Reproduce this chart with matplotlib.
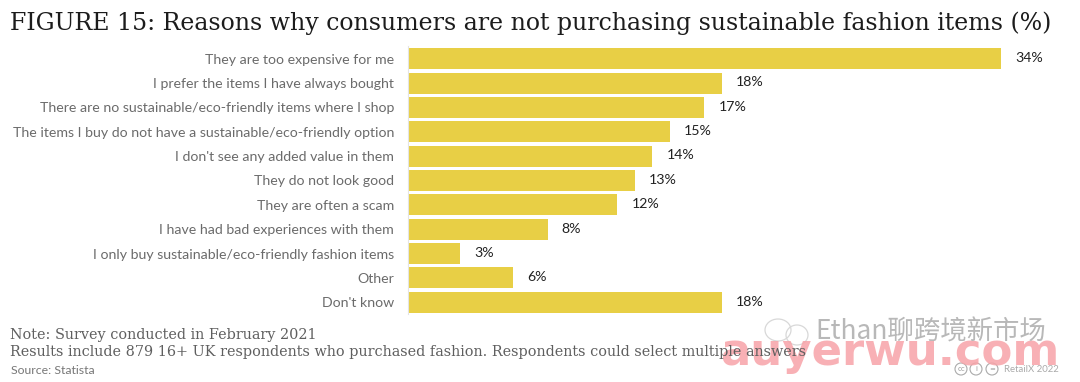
import matplotlib
matplotlib.use("Agg")
import matplotlib.pyplot as plt
from matplotlib.patches import Ellipse

categories = ["They are too expensive for me", "I prefer the items I have always bought",
              "There are no sustainable/eco-friendly items where I shop",
              "The items I buy do not have a sustainable/eco-friendly option",
              "I don't see any added value in them", "They do not look good", "They are often a scam",
              "I have had bad experiences with them", "I only buy sustainable/eco-friendly fashion items",
              "Other", "Don't know"]
values = [34, 18, 17, 15, 14, 13, 12, 8, 3, 6, 18]
title = "FIGURE 15: Reasons why consumers are not purchasing sustainable fashion items (%)"
note1 = "Note: Survey conducted in February 2021"
note2 = "Results include 879 16+ UK respondents who purchased fashion. Respondents could select multiple answers"
source = "Source: Statista"
credit = "RetailX 2022"

W, H = 1080, 382
fig = plt.figure(figsize=(W/100, H/100), dpi=100, facecolor="white")
top, bottom = 46.5, 314.5
ax = fig.add_axes([408/W, 1-bottom/H, (W-408)/W, (bottom-top)/H])
ax.barh(range(len(values)), values, height=0.86, color="#E8CF45")
ax.set_ylim(len(values)-0.5, -0.5)
ax.set_xlim(0, (W-408)/17.44)
ax.set_yticks(range(len(values)))
ax.set_yticklabels(categories, family="Lato", fontsize=10.2, color="#6b6b6b")
ax.tick_params(axis="y", length=0, pad=10)
ax.set_xticks([])
for s in ["top", "right", "bottom"]:
    ax.spines[s].set_visible(False)
ax.spines["left"].set_color("#e4e4e4")
ax.spines["left"].set_linewidth(0.8)
for i, v in enumerate(values):
    ax.annotate(f"{v}%", (v, i), xytext=(10.2, 0.5), textcoords="offset points", va="center",
                family="Lato", fontsize=10.2, color="#222222")

def t(x, y, s, **kw):
    fig.text(x/W, 1-y/H, s, va="center", **kw)

def ring(x, y, rx, ry, **kw):
    fig.add_artist(Ellipse((x/W, 1-y/H), 2*rx/W, 2*ry/H, transform=fig.transFigure, **kw))

t(720, 352, "auyerwu.com", family="DejaVu Sans", fontsize=32.4, weight="bold", color="#f7a3a8", alpha=0.85)
t(10, 23, title, family="DejaVu Serif", fontsize=17, color="#1c1c1c")
t(10, 335, note1, family="DejaVu Serif", fontsize=10.35, color="#5f5f5f")
t(10, 352, note2, family="DejaVu Serif", fontsize=10.35, color="#5f5f5f")
t(11, 371, source, family="Lato", fontsize=8.8, color="#777777")
t(1004, 369, credit, family="Lato", fontsize=6.9, color="#aaaaaa")
for x, s in [(961, "cc"), (976, "i"), (992, "=")]:
    ring(x, 369, 6, 6, fc="white", ec="#aaaaaa", lw=0.8)
    fig.text(x/W, 1-369/H, s, ha="center", va="center", fontsize=5, color="#999999")
ring(778, 330, 13, 11, fc="none", ec="#d8d8d8", lw=0.9)
ring(797, 335, 11, 10, fc="none", ec="#d8d8d8", lw=0.9)
t(815, 332, "Ethan聊跨境新市场", family=["Noto Sans CJK SC", "DejaVu Sans"], fontsize=19, color="#b8b8b8")
fig.savefig("out.png", dpi=100)
